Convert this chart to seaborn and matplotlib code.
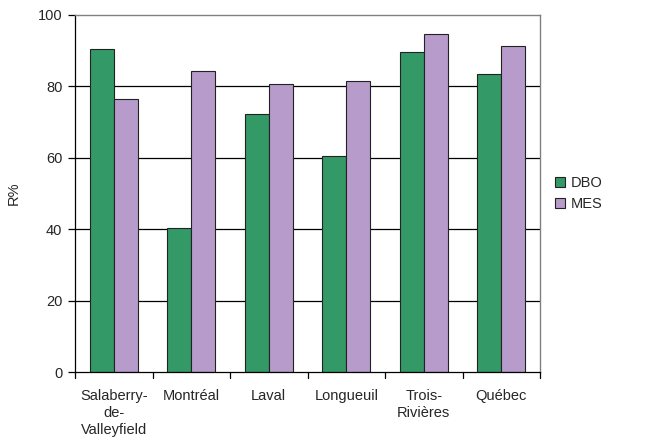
import matplotlib
matplotlib.use("Agg")
import matplotlib.pyplot as plt
import numpy as np
import pandas as pd
import seaborn as sns

CITIES = ["Salaberry-\nde-\nValleyfield", "Montréal", "Laval", "Longueuil", "Trois-\nRivières", "Québec"]
DBO = [90.5, 40.2, 72.3, 60.4, 89.6, 83.6]
MES = [76.5, 84.4, 80.6, 81.4, 94.6, 91.3]
SERIES = ["DBO", "MES"]
COLORS = ["#339966", "#b79bcb"]

df = pd.DataFrame({
    "ville": CITIES * 2,
    "serie": ["DBO"] * len(CITIES) + ["MES"] * len(CITIES),
    "R": DBO + MES,
})

sns.set_theme(style="white")
plt.rcParams["font.family"] = ["Liberation Sans", "DejaVu Sans"]
FS = 10.5

fig = plt.figure(figsize=(6.63, 4.41), dpi=100)
ax = fig.add_axes([75 / 663, 69 / 441, 465 / 663, 357 / 441])

sns.barplot(data=df, x="ville", y="R", hue="serie", hue_order=SERIES,
            palette=COLORS, width=0.62, edgecolor="#222222", linewidth=0.8,
            saturation=1, ax=ax, zorder=3)

ax.set_ylim(0, 100)
ax.set_xlim(-0.5, len(CITIES) - 0.5)
ax.set_yticks(np.arange(0, 101, 20))
for y in [20, 40, 60, 80]:
    ax.axhline(y, color="black", linewidth=0.9, zorder=1)

ax.set_xticks(np.arange(len(CITIES)))
ax.set_xticklabels(CITIES, fontsize=FS, linespacing=1.3)
ax.tick_params(axis="x", length=0, pad=12)
ax.tick_params(axis="y", length=5, width=0.9, color="black", direction="out", labelsize=FS, pad=4)
ax.yaxis.set_ticks_position("left")
# category boundary ticks on the x axis
for b in np.arange(-0.5, len(CITIES), 1.0):
    ax.plot([b, b], [0, -1.6], color="black", linewidth=0.9, clip_on=False, zorder=4)

ax.set_xlabel("")
ax.set_ylabel("R%", fontsize=FS, labelpad=12)

for side in ["left", "bottom"]:
    ax.spines[side].set_color("black")
    ax.spines[side].set_linewidth(0.9)
for side in ["top", "right"]:
    ax.spines[side].set_color("#808080")
    ax.spines[side].set_linewidth(1.0)
ax.spines["bottom"].set_zorder(5)

leg = ax.legend(loc="center left", bbox_to_anchor=(1.02, 0.5), frameon=False,
                fontsize=FS, handlelength=0.7, handleheight=0.7, handletextpad=0.4,
                labelspacing=0.45, borderaxespad=0)
for h in leg.legend_handles:
    h.set_edgecolor("#222222")
    h.set_linewidth(0.8)

fig.savefig("out.png", dpi=100)
